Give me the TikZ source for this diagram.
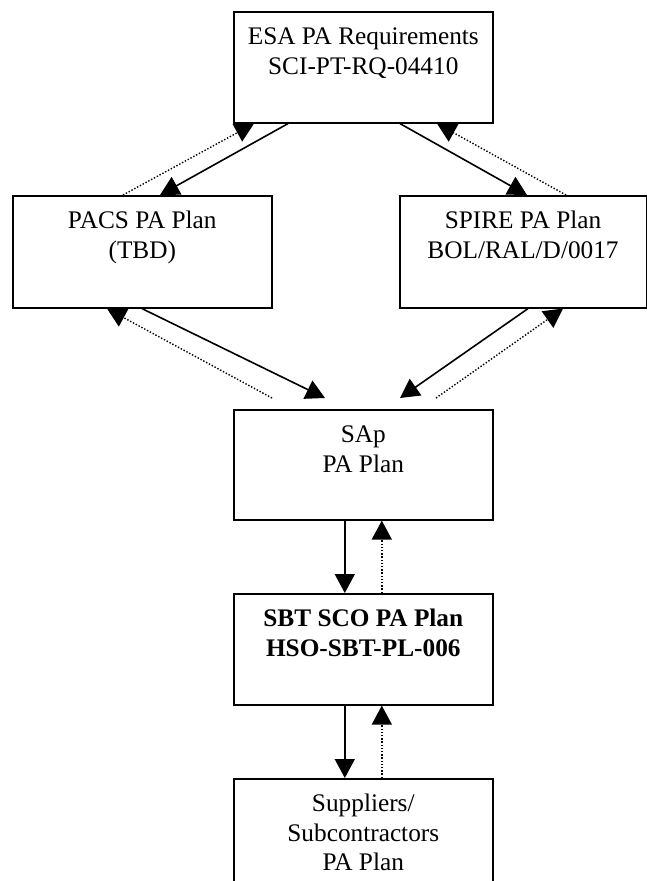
\documentclass[tikz,border=0pt]{standalone}
\usepackage{fontspec}
\setmainfont{Liberation Serif}
\usetikzlibrary{arrows.meta}

\begin{document}
\begin{tikzpicture}[x=1pt,y=-1pt,
  plan/.style={draw,line width=1.6pt,fill=white,anchor=north west,align=center,
    inner xsep=0pt,inner ysep=0pt,minimum width=259pt,text height=63pt,
    font=\fontsize{25.3}{30}\selectfont},
  flow/.style={line width=1.6pt,-{Triangle[length=19pt,width=20pt]}},
  back/.style={line width=1.4pt,dash pattern=on 1.4pt off 1.8pt,-{Triangle[length=19pt,width=20pt]}}]
\clip (0,0) rectangle (647,881);
\node[plan,text depth=48pt] (esa) at (233,11) {ESA PA Requirements\\SCI-PT-RQ-04410};
\node[plan,text depth=49pt] (pacs) at (12,195) {PACS PA Plan\\(TBD)};
\node[plan,text depth=49pt,minimum width=246.5pt] (spire) at (399,195) {SPIRE PA Plan\\BOL/RAL/D/0017};
\node[plan,text depth=47pt] (sap) at (233,409) {SAp\\PA Plan};
\node[plan,text depth=48pt,font=\fontsize{25.3}{30}\selectfont\bfseries] (sbt) at (233,593) {SBT SCO PA Plan\\HSO-SBT-PL-006};
\node[plan,text height=92pt,text depth=19pt,font=\fontsize{25.3}{29.5}\selectfont] (sup) at (233,778) {Suppliers/\\Subcontractors\\PA Plan};
\draw[flow] ([xshift=55pt]esa.south west) -- ([xshift=148pt]pacs.north west);
\draw[back] ([xshift=111pt]pacs.north west) -- ([xshift=21pt]esa.south west);
\draw[flow] ([xshift=167pt]esa.south west) -- ([xshift=128pt]spire.north west);
\draw[back] ([xshift=167pt]spire.north west) -- ([xshift=204pt]esa.south west);
\draw[flow] ([xshift=130pt]pacs.south west) -- ([xshift=92pt,yshift=11pt]sap.north west);
\draw[back] ([xshift=39pt,yshift=11pt]sap.north west) -- ([xshift=95pt]pacs.south west);
\draw[flow] ([xshift=129pt]spire.south west) -- ([xshift=167pt,yshift=11pt]sap.north west);
\draw[back] ([xshift=203pt,yshift=11pt]sap.north west) -- ([xshift=164pt]spire.south west);
\draw[flow] ([xshift=-18.5pt]sap.south) -- ([xshift=-18.5pt]sbt.north);
\draw[back] ([xshift=18.5pt]sbt.north) -- ([xshift=18.5pt]sap.south);
\draw[flow] ([xshift=-18.5pt]sbt.south) -- ([xshift=-18.5pt]sup.north);
\draw[back] ([xshift=18.5pt]sup.north) -- ([xshift=18.5pt]sbt.south);
\end{tikzpicture}
\end{document}
